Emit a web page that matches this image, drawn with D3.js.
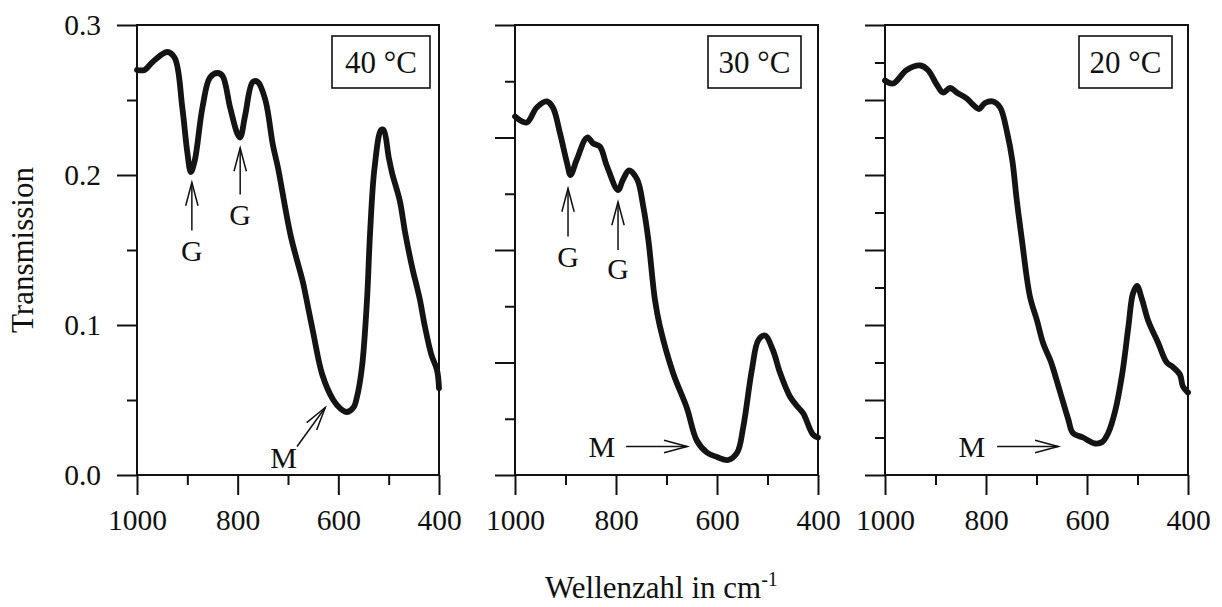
<!DOCTYPE html>
<html lang="de">
    <head>
        <meta charset="utf-8">
        <title>Transmission</title>
        <script type="text/javascript" src="https://d3js.org/d3.v7.min.js"></script>
        <style>
            body { margin: 0; background: #fff; }
            text { font-family: "Liberation Serif", "Times New Roman", serif; fill: #111; }
        </style>
    </head>
    <body>
        <script type="text/javascript">

        //Width and height
        var w = 1222;
        var h = 607;
        var plotTop = 25, plotBottom = 475;

        //Panel titles
        var temps = ["40 °C", "30 °C", "20 °C"];

        //Wavenumbers (cm-1) and transmission
        var wave40  = [1000, 985, 970, 940, 925, 910, 900, 893, 885, 870, 855, 840, 830, 815, 800, 795, 785, 770, 760, 745, 730, 720, 695, 670, 665, 650, 632, 610, 595, 583, 570, 563, 553, 543, 537, 528, 515, 510, 500, 493, 478, 467, 451, 445, 438, 428, 415, 404, 400];
        var trans40 = [0.270, 0.270, 0.275, 0.282, 0.278, 0.245, 0.215, 0.202, 0.210, 0.245, 0.265, 0.268, 0.266, 0.245, 0.227, 0.225, 0.240, 0.262, 0.262, 0.250, 0.220, 0.205, 0.160, 0.128, 0.120, 0.095, 0.067, 0.050, 0.044, 0.042, 0.045, 0.052, 0.072, 0.117, 0.161, 0.205, 0.230, 0.230, 0.212, 0.201, 0.183, 0.161, 0.135, 0.127, 0.117, 0.099, 0.080, 0.070, 0.058];

        var wave30  = [1000, 977, 957, 937, 925, 911, 897, 890, 878, 857, 845, 832, 818, 796, 786, 774, 758, 746, 736, 723, 713, 687, 660, 640, 620, 600, 578, 560, 548, 531, 518, 505, 489, 475, 455, 439, 429, 410, 400];
        var trans30 = [0.239, 0.235, 0.245, 0.249, 0.245, 0.228, 0.208, 0.200, 0.210, 0.225, 0.221, 0.219, 0.206, 0.190, 0.197, 0.203, 0.197, 0.179, 0.157, 0.117, 0.099, 0.068, 0.045, 0.023, 0.015, 0.012, 0.010, 0.015, 0.032, 0.070, 0.090, 0.093, 0.083, 0.068, 0.052, 0.045, 0.041, 0.027, 0.025];

        var wave20  = [1000, 984, 957, 930, 915, 897, 885, 871, 858, 838, 826, 814, 802, 786, 772, 758, 748, 739, 729, 713, 699, 687, 672, 668, 653, 637, 628, 608, 584, 570, 558, 544, 530, 518, 509, 501, 491, 479, 459, 442, 430, 416, 410, 400];
        var trans20 = [0.263, 0.261, 0.270, 0.273, 0.270, 0.260, 0.255, 0.258, 0.255, 0.251, 0.247, 0.244, 0.248, 0.249, 0.245, 0.228, 0.210, 0.183, 0.157, 0.119, 0.103, 0.088, 0.076, 0.072, 0.055, 0.037, 0.028, 0.025, 0.021, 0.022, 0.028, 0.043, 0.068, 0.099, 0.121, 0.126, 0.117, 0.103, 0.088, 0.075, 0.072, 0.067, 0.059, 0.055];

        //Tick values
        var xMajor = [1000, 800, 600, 400];
        var xMinor = [900, 700, 500];
        var yLabels = ["0.0", "0.1", "0.2", "0.3"];
        var yMajor40 = [0, 0.1, 0.2, 0.3];
        var yMinor40 = [0.05, 0.15, 0.25];
        var yMajor30 = [0, 0.075, 0.15, 0.225, 0.3];
        var yMinor30 = [0.0375, 0.1125, 0.1875, 0.2625];
        var yMajor20 = [0, 0.05, 0.1, 0.15, 0.2, 0.25, 0.3];
        var yMinor20 = [0.025, 0.075, 0.125, 0.175, 0.225, 0.275];

        //Annotations: [text, textWave, textTrans, tailWave, tailTrans, tipWave, tipTrans]
        var notes40 = [["G", 891, 0.143, 891, 0.163, 891, 0.195],
                       ["G", 795, 0.167, 795, 0.187, 795, 0.218],
                       ["M", 709, 0.005, 682, 0.019, 626, 0.045]];
        var notes30 = [["G", 895, 0.139, 895, 0.159, 895, 0.191],
                       ["G", 796, 0.131, 796, 0.150, 796, 0.182],
                       ["M", 828, 0.012, 780, 0.019, 659, 0.019]];
        var notes20 = [["M", 828, 0.012, 778, 0.019, 657, 0.019]];

        var panels = [
            { wave: wave40, trans: trans40, yMajor: yMajor40, yMinor: yMinor40, notes: notes40, left: 137, right: 439, boxX: 332, boxW: 98 },
            { wave: wave30, trans: trans30, yMajor: yMajor30, yMinor: yMinor30, notes: notes30, left: 515, right: 818, boxX: 708, boxW: 93 },
            { wave: wave20, trans: trans20, yMajor: yMajor20, yMinor: yMinor20, notes: notes20, left: 885, right: 1188, boxX: 1079, boxW: 93 }
        ];

        var yScale = d3.scaleLinear()
                       .domain([0, 0.3])
                       .range([plotBottom, plotTop]);

        //Create SVG element
        var svg = d3.select("body")
                    .append("svg")
                    .attr("width", w)
                    .attr("height", h);

        panels.forEach(function(p, i) {

            var xScale = d3.scaleLinear()
                           .domain([1000, 400])
                           .range([p.left, p.right]);

            var g = svg.append("g");

            //Major and minor ticks, y
            var yAxis = d3.axisLeft(yScale)
                          .tickValues(p.yMajor)
                          .tickSize(20)
                          .tickPadding(16)
                          .tickFormat(function(d, k) { return i === 0 ? yLabels[k] : ""; });
            var yAxisMinor = d3.axisLeft(yScale)
                               .tickValues(p.yMinor)
                               .tickSize(10)
                               .tickFormat("");

            //Major and minor ticks, x
            var xAxis = d3.axisBottom(xScale)
                          .tickValues(xMajor)
                          .tickSize(20)
                          .tickPadding(14)
                          .tickFormat(d3.format("d"));
            var xAxisMinor = d3.axisBottom(xScale)
                               .tickValues(xMinor)
                               .tickSize(10)
                               .tickFormat("");

            [yAxis, yAxisMinor].forEach(function(ax) {
                g.append("g")
                 .attr("class", "axis")
                 .attr("transform", "translate(" + p.left + ",0)")
                 .call(ax);
            });
            [xAxis, xAxisMinor].forEach(function(ax) {
                g.append("g")
                 .attr("class", "axis")
                 .attr("transform", "translate(0," + plotBottom + ")")
                 .call(ax);
            });

            g.selectAll(".axis .domain").remove();
            g.selectAll(".axis line")
             .attr("stroke", "#111")
             .attr("stroke-width", 2);
            g.selectAll(".axis text")
             .attr("font-size", "29.5px")
             .attr("font-family", "Liberation Serif, serif")
             .attr("fill", "#111");

            //Frame
            g.append("rect")
             .attr("x", p.left)
             .attr("y", plotTop)
             .attr("width", p.right - p.left)
             .attr("height", plotBottom - plotTop)
             .attr("fill", "none")
             .attr("stroke", "#111")
             .attr("stroke-width", 2);

            //Temperature box
            g.append("rect")
             .attr("x", p.boxX)
             .attr("y", 36)
             .attr("width", p.boxW)
             .attr("height", 52)
             .attr("fill", "#fff")
             .attr("stroke", "#111")
             .attr("stroke-width", 1.6);
            g.append("text")
             .attr("x", p.boxX + p.boxW / 2)
             .attr("y", 73)
             .attr("text-anchor", "middle")
             .attr("font-size", "31px")
             .text(temps[i]);

            //Spectrum
            var line = d3.line()
                         .x(function(d) { return xScale(d[0]); })
                         .y(function(d) { return yScale(d[1]); })
                         .curve(d3.curveCatmullRom.alpha(0.5));

            g.append("path")
             .datum(d3.zip(p.wave, p.trans))
             .attr("d", line)
             .attr("fill", "none")
             .attr("stroke", "#141414")
             .attr("stroke-width", 5.8)
             .attr("stroke-linejoin", "round")
             .attr("stroke-linecap", "round");

            //Arrows with labels
            p.notes.forEach(function(n) {
                var x1 = xScale(n[3]), y1 = yScale(n[4]);
                var x2 = xScale(n[5]), y2 = yScale(n[6]);
                var a = Math.atan2(y2 - y1, x2 - x1);
                var len = 24, spread = 0.26;
                g.append("line")
                 .attr("x1", x1).attr("y1", y1)
                 .attr("x2", x2).attr("y2", y2)
                 .attr("stroke", "#111")
                 .attr("stroke-width", 1.5);
                g.append("path")
                 .attr("d", "M" + (x2 - len * Math.cos(a - spread)) + "," + (y2 - len * Math.sin(a - spread)) +
                            "L" + x2 + "," + y2 +
                            "L" + (x2 - len * Math.cos(a + spread)) + "," + (y2 - len * Math.sin(a + spread)))
                 .attr("fill", "none")
                 .attr("stroke", "#111")
                 .attr("stroke-width", 1.5);
                g.append("text")
                 .attr("x", xScale(n[1]))
                 .attr("y", yScale(n[2]))
                 .attr("text-anchor", "middle")
                 .attr("font-size", "30px")
                 .text(n[0]);
            });
        });

        //Axis titles
        svg.append("text")
           .attr("transform", "translate(33,250) rotate(-90)")
           .attr("text-anchor", "middle")
           .attr("font-size", "31px")
           .text("Transmission");

        var xt = svg.append("text")
                    .attr("x", 545)
                    .attr("y", 598)
                    .attr("font-size", "31px");
        xt.append("tspan").text("Wellenzahl in cm");
        xt.append("tspan")
          .attr("dy", -12)
          .attr("font-size", "20px")
          .text("-1");

        </script>
    </body>
</html>
